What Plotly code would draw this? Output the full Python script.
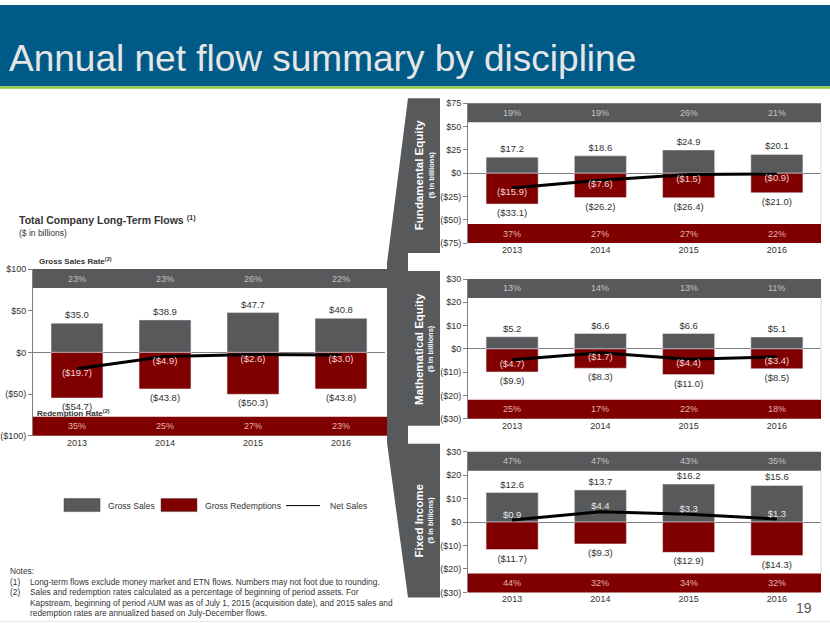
import plotly.graph_objects as go

W, H = 830, 623
FONT = "Liberation Sans, Arial, sans-serif"

years = ["2013", "2014", "2015", "2016"]

total_gross = [35.0, 38.9, 47.7, 40.8]
total_redemp = [-54.7, -43.8, -50.3, -43.8]
total_net = [-19.7, -4.9, -2.6, -3.0]
total_sales_rate = ["23%", "23%", "26%", "22%"]
total_redemp_rate = ["35%", "25%", "27%", "23%"]

fund_gross = [17.2, 18.6, 24.9, 20.1]
fund_redemp = [-33.1, -26.2, -26.4, -21.0]
fund_net = [-15.9, -7.6, -1.5, -0.9]
fund_sales_rate = ["19%", "19%", "26%", "21%"]
fund_redemp_rate = ["37%", "27%", "27%", "22%"]

math_gross = [5.2, 6.6, 6.6, 5.1]
math_redemp = [-9.9, -8.3, -11.0, -8.5]
math_net = [-4.7, -1.7, -4.4, -3.4]
math_sales_rate = ["13%", "14%", "13%", "11%"]
math_redemp_rate = ["25%", "17%", "22%", "18%"]

fi_gross = [12.6, 13.7, 16.2, 15.6]
fi_redemp = [-11.7, -9.3, -12.9, -14.3]
fi_net = [0.9, 4.4, 3.3, 1.3]
fi_sales_rate = ["47%", "47%", "43%", "35%"]
fi_redemp_rate = ["44%", "32%", "34%", "32%"]

total_ticks = [100, 50, 0, -50, -100]
total_ticktext = ["$100", "$50", "$0", "($50)", "($100)"]
fund_ticks = [75, 50, 25, 0, -25, -50, -75]
fund_ticktext = ["$75", "$50", "$25", "$0", "($25)", "($50)", "($75)"]
small_ticks = [30, 20, 10, 0, -10, -20, -30]
small_ticktext = ["$30", "$20", "$10", "$0", "($10)", "($20)", "($30)"]

GRAY = "#58595b"
RED = "#800000"
TXT = "#333333"

xi = list(range(len(years)))


def fmt(v):
    return f"${v:.1f}" if v >= 0 else f"(${-v:.1f})"


def px(x):
    return x / W


def py(y):
    # compensate the slight vertical scaling seen in the page capture
    return 1 - ((y - 3.5) / 0.9857) / H


def note(x, y, text, size, color=TXT, xanchor="left", angle=0):
    return dict(x=px(x), y=py(y), xref="paper", yref="paper", xanchor=xanchor,
                yanchor="middle", showarrow=False, text=text, textangle=angle,
                font=dict(size=size, color=color, family=FONT))


panels = [
    ("", total_gross, total_redemp, total_net, total_sales_rate, total_redemp_rate,
     total_ticks, total_ticktext, (33, 385), (268, 435)),
    ("2", fund_gross, fund_redemp, fund_net, fund_sales_rate, fund_redemp_rate,
     fund_ticks, fund_ticktext, (468, 821), (102, 242)),
    ("3", math_gross, math_redemp, math_net, math_sales_rate, math_redemp_rate,
     small_ticks, small_ticktext, (468, 821), (278, 418)),
    ("4", fi_gross, fi_redemp, fi_net, fi_sales_rate, fi_redemp_rate,
     small_ticks, small_ticktext, (468, 821), (451, 592)),
]

fig = go.Figure()
shapes = []
annotations = []
layout_axes = {}
FS = 9.5

for suf, gross, red, net, srate, rrate, ticks, ttext, (x0, x1), (y0, y1) in panels:
    xa = "x" + suf
    ya = "y" + suf
    fig.add_trace(go.Bar(
        x=xi, y=gross, xaxis=xa, yaxis=ya, marker_color=GRAY, width=0.59,
        text=[fmt(v) for v in gross], textposition="outside", cliponaxis=False,
        constraintext="none", textfont=dict(size=FS, color=TXT, family=FONT),
        showlegend=False, name="Gross Sales"))
    fig.add_trace(go.Bar(
        x=xi, y=red, xaxis=xa, yaxis=ya, marker_color=RED, width=0.59,
        text=[fmt(v) for v in red], textposition="outside", cliponaxis=False,
        constraintext="none", textfont=dict(size=FS, color=TXT, family=FONT),
        showlegend=False, name="Gross Redemptions"))
    fig.add_trace(go.Scatter(
        x=xi, y=net, xaxis=xa, yaxis=ya, mode="lines+text",
        line=dict(color="black", width=3),
        text=[fmt(v) for v in net],
        textposition=["bottom center" if v < 0 else "top center" for v in net],
        textfont=dict(size=FS, family=FONT,
                      color=["#f2d4d4" if v < 0 else "#e6e6e6" for v in net]),
        cliponaxis=False, showlegend=False, name="Net Sales"))

    ph = y1 - y0
    frac = 19 / ph
    xend = 1.0 if suf else (387 - x0) / (x1 - x0)
    xdref = xa + " domain"
    ydref = ya + " domain"
    shapes.append(dict(type="rect", xref=xdref, yref=ydref, x0=0, x1=xend,
                       y0=1 - frac, y1=1, fillcolor=GRAY, line_width=0, layer="below"))
    shapes.append(dict(type="rect", xref=xdref, yref=ydref, x0=0, x1=xend,
                       y0=0, y1=frac, fillcolor=RED, line_width=0, layer="below"))
    if suf:
        shapes.append(dict(type="line", xref=xdref, yref=ydref, x0=1, x1=1,
                           y0=frac, y1=1 - frac, line=dict(color="#d9d9d9", width=1)))
    for i, s, r in zip(xi, srate, rrate):
        annotations.append(dict(x=i, y=1 - frac / 2, xref=xa, yref=ydref, text=s,
                                xanchor="center", yanchor="middle",
                                showarrow=False, font=dict(size=9, color="#c4c4c4", family=FONT)))
        annotations.append(dict(x=i, y=frac / 2, xref=xa, yref=ydref, text=r,
                                xanchor="center", yanchor="middle",
                                showarrow=False, font=dict(size=9, color="#e6b0b0", family=FONT)))

    layout_axes["xaxis" + suf] = dict(
        domain=[px(x0), px(x1)], anchor=ya, range=[-0.5, len(years) - 0.5],
        tickvals=xi, ticktext=years, showgrid=False, showline=False, ticks="",
        zeroline=False, tickfont=dict(size=9, color=TXT, family=FONT), fixedrange=True)
    layout_axes["yaxis" + suf] = dict(
        domain=[py(y1), py(y0)], anchor=xa, range=[ticks[-1], ticks[0]],
        tickvals=ticks, ticktext=ttext, showgrid=False, showline=True,
        linecolor="#808080", linewidth=1, ticks="outside", ticklen=4, tickcolor="#808080",
        zeroline=True, zerolinecolor="#808080", zerolinewidth=1,
        tickfont=dict(size=9, color=TXT, family=FONT), fixedrange=True)

# Header
shapes.append(dict(type="rect", xref="paper", yref="paper", x0=0, x1=1, y0=py(85), y1=1,
                   fillcolor="#005a88", line_width=0))
shapes.append(dict(type="rect", xref="paper", yref="paper", x0=0, x1=1, y0=py(87.5), y1=py(85),
                   fillcolor="#8dc63f", line_width=0))
annotations.append(note(7, 57, "Annual net flow summary by discipline", 37, color="#e6e6e6"))

# Chevron panel
pts = [(408, 97), (440, 97), (440, 597), (408, 597), (387, 442), (387, 262)]
path = "M " + " L ".join(f"{px(a):.5f} {py(b):.5f}" for a, b in pts) + " Z"
shapes.append(dict(type="path", xref="paper", yref="paper", path=path,
                   fillcolor=GRAY, line_width=0))
for (a, b) in [(252, 270), (425, 443)]:
    shapes.append(dict(type="rect", xref="paper", yref="paper", x0=px(408), x1=px(442),
                       y0=py(b), y1=py(a), fillcolor="white", line_width=0))

for name, cy in [("Fundamental Equity", 174), ("Mathematical Equity", 348), ("Fixed Income", 520)]:
    annotations.append(note(419, cy, f"<b>{name}</b>", 11.5, color="white",
                            xanchor="center", angle=-90))
    annotations.append(note(431, cy, "<b>($ in billions)</b>", 7.5, color="white",
                            xanchor="center", angle=-90))

# Left chart titles
annotations.append(note(17, 218, "<b>Total Company Long-Term Flows <sup>(1)</sup></b>", 10.5))
annotations.append(note(17, 232, "($ in billions)", 8.5))
annotations.append(note(37, 260, "<b>Gross Sales Rate<sup>(2)</sup></b>", 8))
annotations.append(note(35, 412, "<b>Redemption Rate<sup>(2)</sup></b>", 8))

# Legend
shapes.append(dict(type="rect", xref="paper", yref="paper", x0=px(64), x1=px(100),
                   y0=py(511), y1=py(498), fillcolor=GRAY, line=dict(color="#404040", width=0.5)))
shapes.append(dict(type="rect", xref="paper", yref="paper", x0=px(161), x1=px(197),
                   y0=py(511), y1=py(498), fillcolor=RED, line=dict(color="#404040", width=0.5)))
shapes.append(dict(type="line", xref="paper", yref="paper", x0=px(286), x1=px(320),
                   y0=py(505), y1=py(505), line=dict(color="black", width=1)))
for t, xx in [("Gross Sales", 106), ("Gross Redemptions", 203), ("Net Sales", 328)]:
    annotations.append(note(xx, 505, t, 8.6))

# Notes
notes = [
    (8, 571, "Notes:"),
    (8, 582, "(1)"),
    (28, 582, "Long-term flows exclude money market and ETN flows. Numbers may not foot due to rounding."),
    (8, 592, "(2)"),
    (28, 592, "Sales and redemption rates calculated as a percentage of beginning of period assets. For"),
    (28, 603, "Kapstream, beginning of period AUM was as of July 1, 2015 (acquisition date), and 2015 sales and"),
    (28, 613, "redemption rates are annualized based on July-December flows."),
]
for xx, yy, t in notes:
    annotations.append(note(xx, yy, t, 8.3))

annotations.append(note(804, 608, "19", 14, color="#595959", xanchor="center"))
shapes.append(dict(type="line", xref="paper", yref="paper", x0=0, x1=1, y0=py(621), y1=py(621),
                   line=dict(color="#e6e6e6", width=1)))

fig.update_layout(
    width=W, height=H, margin=dict(l=0, r=0, t=0, b=0),
    paper_bgcolor="white", plot_bgcolor="rgba(0,0,0,0)",
    barmode="overlay", showlegend=False,
    shapes=shapes, annotations=annotations,
    font=dict(family=FONT, color=TXT),
    **layout_axes,
)

fig.write_html(
    "out.html",
    config={"displayModeBar": False},
    post_script=(
        "document.documentElement.style.margin='0px';"
        "document.documentElement.style.overflow='hidden';"
        "document.documentElement.style.height='623px';"
        "document.body.style.margin='0px';"
        "document.body.style.overflow='hidden';"
        "document.body.style.height='623px';"
    ),
)
